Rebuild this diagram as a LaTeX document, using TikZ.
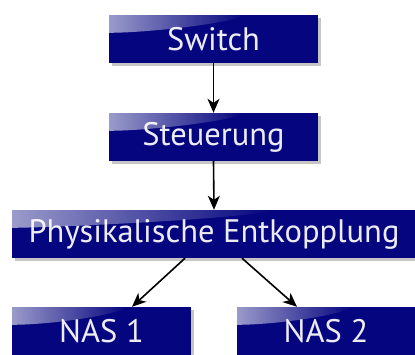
\documentclass[tikz,border=0pt]{standalone}
\usepackage{fontspec}
\setmainfont{PT Sans}
\usetikzlibrary{shadows,fadings,arrows.meta,calc}
\definecolor{boxblue}{HTML}{05057F}
\definecolor{boxtext}{HTML}{ECECF4}
\tikzfading[name=glossfade, left color=transparent!40, right color=transparent!100]
\tikzset{
  box/.style={fill=boxblue, text=boxtext, inner sep=0pt, minimum height=48pt,
    font=\fontsize{32.5}{34}\selectfont,
    drop shadow={shadow xshift=3pt, shadow yshift=-3pt, fill=black!50, opacity=0.45}},
  conn/.style={draw=black, line width=1.6pt, -{Stealth[length=14pt,width=12pt,inset=4pt]}}
}
\newcommand{\gloss}[2]{%
  \fill[white, path fading=glossfade]
    (#1.north west) -- ++(#2,0) .. controls ++(-8,8) and ++(40,0) .. ($(#1.north west)+(0,18)$) -- cycle;}
\begin{document}
\begin{tikzpicture}[x=1pt,y=-1pt]
\useasboundingbox (0,0) rectangle (415,354);
\clip (0,0) rectangle (415,354);
\fill[white] (0,0) rectangle (415,354);
\node[box, minimum width=209pt] (sw) at (213.5,39) {Switch};
\node[box, minimum width=209pt] (st) at (213.5,137) {Steuerung};
\node[box, minimum width=404pt] (ph) at (214,234) {Physikalische Entkopplung};
\node[box, minimum width=179pt] (n1) at (101.5,331) {NAS 1};
\node[box, minimum width=178pt] (n2) at (326,331) {NAS 2};
\gloss{sw}{135}
\gloss{st}{135}
\gloss{ph}{260}
\gloss{n1}{115}
\gloss{n2}{115}
\draw[conn] (sw.south) -- (st.north);
\draw[conn] (st.south) -- (ph.north);
\draw[conn] ($(ph.south)+(-29,0)$) -- ($(n1.north)+(30.5,0)$);
\draw[conn] ($(ph.south)+(28,0)$) -- ($(n2.north)+(-29,0)$);
\end{tikzpicture}
\end{document}
